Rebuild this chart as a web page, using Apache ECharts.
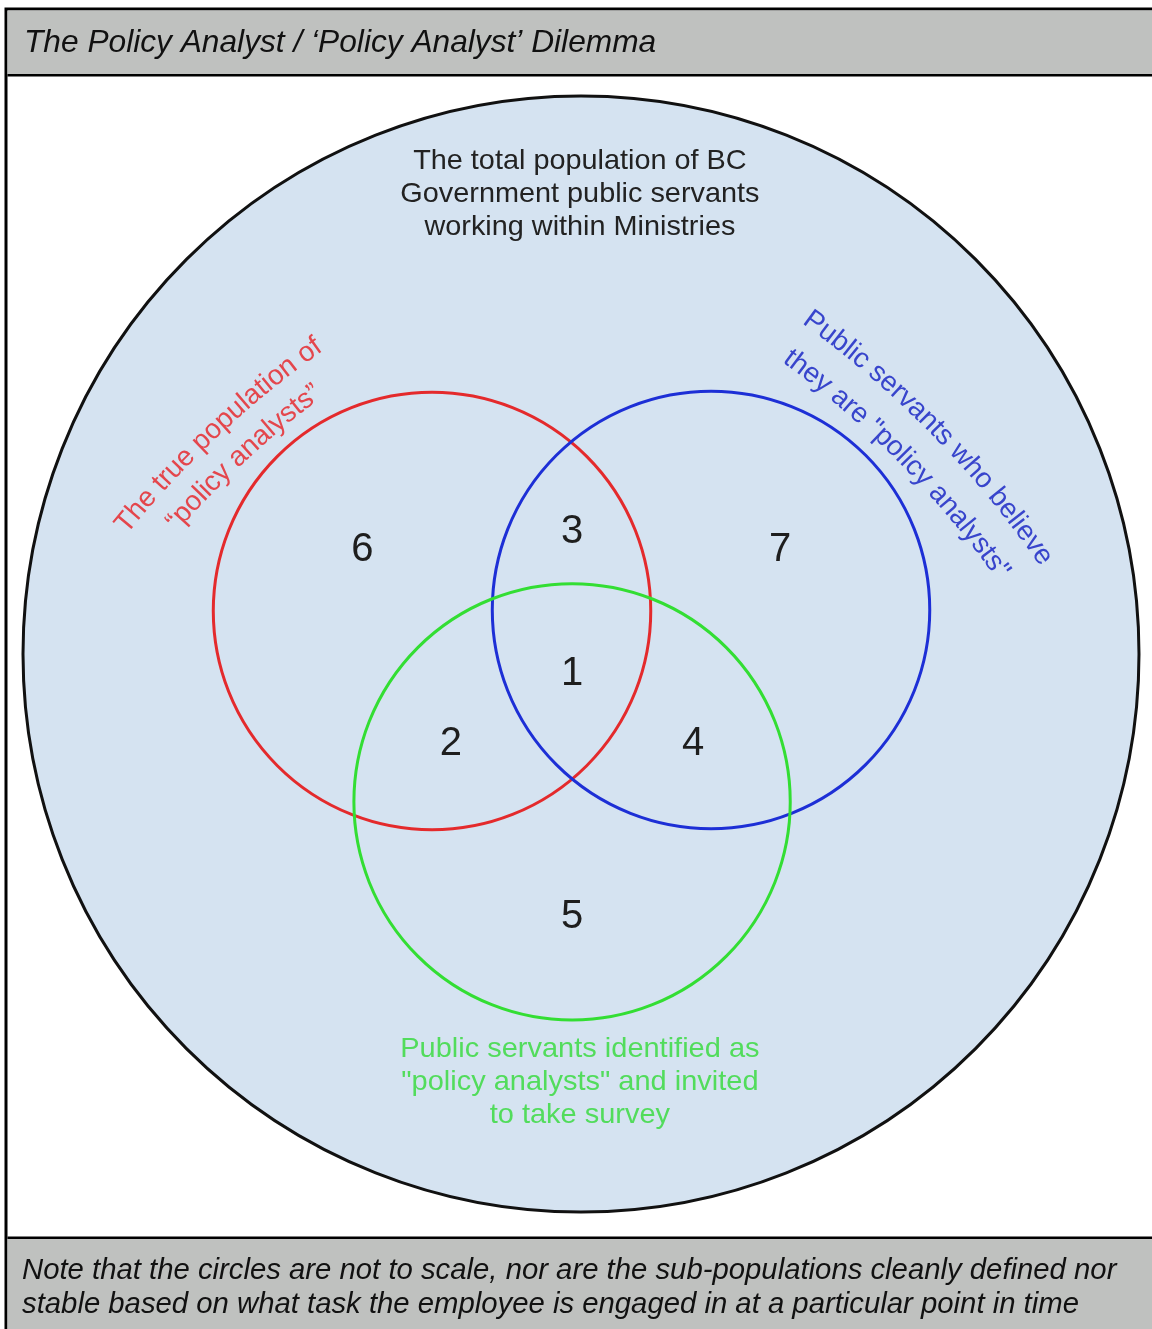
<!DOCTYPE html>
<html>
<head>
<meta charset="utf-8">
<script src="https://cdn.jsdelivr.net/npm/echarts@6/dist/echarts.min.js"></script>
<style>
  html, body { margin: 0; padding: 0; background: #fff; }
  #chart { width: 1152px; height: 1329px; }
</style>
</head>
<body>
<div id="chart"></div>
<script>
// sets: outer population + three sub-populations (data units, outer circle radius = 100)
const setNames = ['total', 'true', 'believe', 'identified']
const setCx = [0, -26.7, 23.3, -1.6]
const setCy = [0, 7.7, 7.9, -26.5]
const setR = [100, 39.2, 39.2, 39.1]

// region numbers
const regionIds = ['6', '3', '7', '1', '2', '4', '5']
const regionX = [-39.2, -1.6, 35.7, -1.6, -23.3, 20.1, -1.6]
const regionY = [18.6, 21.9, 18.6, -3.6, -16.2, -16.2, -47.2]

// straight labels
const totalLabel = ['The total population of BC', 'Government public servants', 'working within Ministries']
const totalAnchor = [-0.2, 82.3]
const identifiedLabel = ['Public servants identified as', '"policy analysts" and invited', 'to take survey']
const identifiedAnchor = [-0.2, -76.7]

// curved labels: text, arc centre, arc radius, mid angle (deg)
const arcText = ['The true population of', '\u201cpolicy analysts\u201d', 'Public servants who believe', 'they are "policy analysts"']
const arcSet = ['true', 'true', 'believe', 'believe']
const arcCx = [56.6, 56.6, -64.2, -64.2]
const arcCy = [-90.7, -90.7, -85.1, -85.1]
const arcR = [179.2, 172.6, 179.2, 171.5]
const arcMid = [133.1, 132.9, 44.4, 44.6]

const title = 'The Policy Analyst / \u2018Policy Analyst\u2019 Dilemma'
const note = ['Note that the circles are not to scale, nor are the sub-populations cleanly defined nor',
  'stable based on what task the employee is engaged in at a particular point in time']

const strokeColors = {total: '#111111', true: '#e42a2c', believe: '#1d2fd6', identified: '#33de33'}
const textColors = {true: '#e4464c', believe: '#3845cc', identified: '#52dc5c'}
const FONT = '"Liberation Sans", Arial, sans-serif'

const measure = document.createElement('canvas').getContext('2d')
measure.font = '28px ' + FONT

const myChart = echarts.init(document.getElementById('chart'))

function textLines(lines, color, size, lh, sx) {
  return function (params, api) {
    const c = api.coord([api.value(0), api.value(1)])
    return {
      type: 'text',
      x: c[0], y: c[1],
      scaleX: sx,
      style: {
        text: lines.join('\n'), fill: color, fontSize: size, fontFamily: FONT,
        lineHeight: lh, align: 'center', verticalAlign: 'middle'
      }
    }
  }
}

let option = {
  animation: false,
  grid: {left: 23, top: 96, width: 1116, height: 1116},
  xAxis: {type: 'value', min: -100, max: 100, show: false},
  yAxis: {type: 'value', min: -100, max: 100, show: false},
  graphic: [
    {type: 'rect', shape: {x: 6, y: 9, width: 1200, height: 1400}, style: {fill: '#fff', stroke: '#000', lineWidth: 3}, z: -10},
    {type: 'rect', shape: {x: 7.5, y: 10.5, width: 1200, height: 64}, style: {fill: '#bfc1bf'}, z: -9},
    {type: 'rect', shape: {x: 7.5, y: 74, width: 1200, height: 2.5}, style: {fill: '#000'}, z: -9},
    {type: 'rect', shape: {x: 7.5, y: 1236.5, width: 1200, height: 2.5}, style: {fill: '#000'}, z: -9},
    {type: 'rect', shape: {x: 7.5, y: 1239, width: 1200, height: 100}, style: {fill: '#bfc1bf'}, z: -9},
    {type: 'text', x: 24, y: 43, style: {text: title, fill: '#111', fontSize: 31.7, fontStyle: 'italic', fontFamily: FONT, verticalAlign: 'middle'}},
    {type: 'text', x: 22, y: 1288, style: {text: note.join('\n'), fill: '#111', fontSize: 29.3, lineHeight: 34, fontStyle: 'italic', fontFamily: FONT, verticalAlign: 'middle'}}
  ],
  series: [
    {
      type: 'custom',
      name: 'sets',
      clip: false,
      data: setNames.map((n, i) => [setCx[i], setCy[i], setR[i]]),
      renderItem: function (params, api) {
        const name = setNames[params.dataIndex]
        const c = api.coord([api.value(0), api.value(1)])
        const r = api.size([api.value(2), 0])[0]
        return {
          type: 'circle',
          shape: {cx: c[0], cy: c[1], r: r},
          style: {
            fill: name === 'total' ? '#d5e3f1' : 'none',
            stroke: strokeColors[name],
            lineWidth: 3
          }
        }
      }
    },
    {
      type: 'custom',
      name: 'regions',
      clip: false,
      data: regionIds.map((id, i) => [regionX[i], regionY[i]]),
      renderItem: function (params, api) {
        const c = api.coord([api.value(0), api.value(1)])
        return {
          type: 'text', x: c[0], y: c[1],
          style: {text: regionIds[params.dataIndex], fill: '#1e1e1e', fontSize: 40, fontFamily: FONT, align: 'center', verticalAlign: 'middle'}
        }
      }
    },
    {
      type: 'custom', name: 'total label', clip: false,
      data: [totalAnchor],
      renderItem: textLines(totalLabel, '#222222', 28, 33, 1.03)
    },
    {
      type: 'custom', name: 'identified label', clip: false,
      data: [identifiedAnchor],
      renderItem: textLines(identifiedLabel, textColors.identified, 28, 33, 1.035)
    },
    {
      type: 'custom',
      name: 'arc labels',
      clip: false,
      data: arcText.map((t, i) => [arcCx[i], arcCy[i], arcR[i], arcMid[i]]),
      renderItem: function (params, api) {
        const i = params.dataIndex
        const str = arcText[i]
        const c = api.coord([api.value(0), api.value(1)])
        const R = api.size([api.value(2), 0])[0]
        const widths = Array.from(str).map(ch => measure.measureText(ch).width)
        const total = widths.reduce((a, b) => a + b, 0)
        const start = api.value(3) * Math.PI / 180 + (total / 2) / R
        let s = 0
        const children = []
        Array.from(str).forEach((ch, k) => {
          const th = start - (s + widths[k] / 2) / R
          s += widths[k]
          children.push({
            type: 'text',
            x: c[0] + R * Math.cos(th),
            y: c[1] - R * Math.sin(th),
            rotation: th - Math.PI / 2,
            style: {text: ch, fill: textColors[arcSet[i]], fontSize: 28, fontFamily: FONT, align: 'center', verticalAlign: 'middle'}
          })
        })
        return {type: 'group', children: children}
      }
    }
  ]
}

option && myChart.setOption(option)
</script>
</body>
</html>
